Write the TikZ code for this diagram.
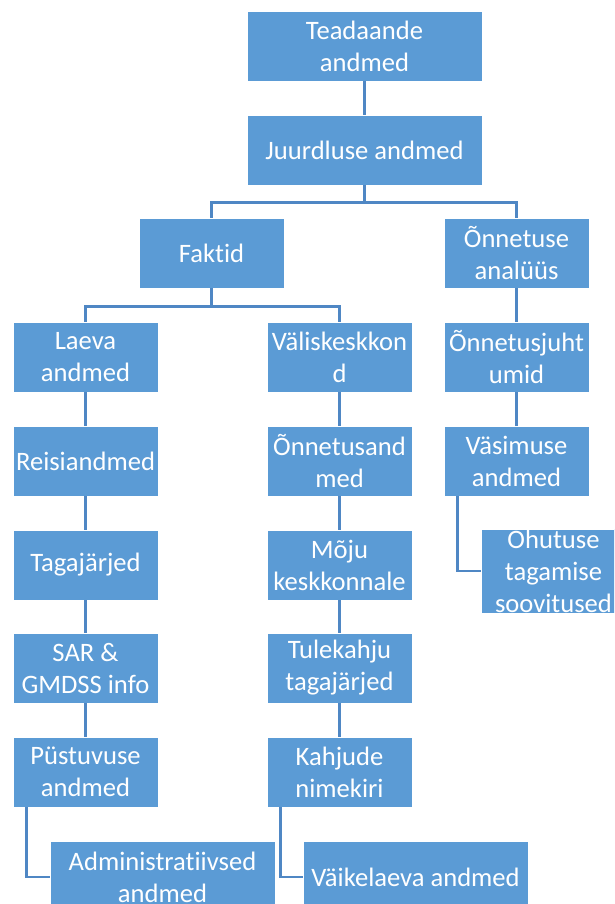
\documentclass[tikz,border=0pt]{standalone}
\usepackage{fontspec}
\setmainfont{Carlito}[Ligatures=NoCommon]
\definecolor{boxblue}{HTML}{5B9BD5}
\definecolor{lineblue}{HTML}{4F87C4}
\begin{document}
\begin{tikzpicture}[x=1pt,y=-1pt,
  box/.style={rectangle, fill=boxblue, draw=white, line width=0.8pt, text=white,
    align=center, inner sep=0pt, minimum width=145pt, minimum height=70pt,
    font=\fontsize{26.6}{32}\selectfont},
  wide/.style={minimum width=235pt},
  conn/.style={draw=lineblue, line width=2.6pt}]
\clip (0,0) rectangle (614,904);
\fill[white] (0,0) rectangle (614,904);
% nodes
\node[box,wide] (tea) at (364.5,46) {Teadaande\\andmed};
\node[box,wide] (juu) at (364.5,150) {Juurdluse andmed};
\node[box] (fak) at (211.5,253) {Faktid};
\node[box] (ana) at (516.5,253) {Õnnetuse\\analüüs};
\node[box] (lae) at (85.5,357) {Laeva\\andmed};
\node[box] (val) at (339.5,357) {Väliskeskkon\\d};
\node[box] (juh) at (516.5,357) {Õnnetusjuht\\umid};
\node[box] (rei) at (85.5,461) {Reisiandmed};
\node[box] (oan) at (339.5,461) {Õnnetusand\\med};
\node[box] (vas) at (516.5,461) {Väsimuse\\andmed};
\node[box] (tag) at (85.5,565) {Tagajärjed};
\node[box] (moj) at (339.5,565) {Mõju\\keskkonnale};
\node[box,minimum height=84pt] (ohu) at (553.5,571) {Ohutuse\\tagamise\\soovitused};
\node[box] (sar) at (85.5,668) {SAR \&\\GMDSS info};
\node[box] (tul) at (339.5,668) {Tulekahju\\tagajärjed};
\node[box] (pus) at (85.5,772) {Püstuvuse\\andmed};
\node[box] (kah) at (339.5,772) {Kahjude\\nimekiri};
\node[box,minimum width=225pt,minimum height=72pt] (adm) at (162.5,877) {Administratiivsed\\andmed};
\node[box,minimum width=225pt,minimum height=72pt] (vai) at (415.5,877) {Väikelaeva andmed};
% connectors
\draw[conn] (tea) -- (juu);
\draw[conn] (juu.south) -- ++(0,17) -| (fak.north);
\draw[conn] (juu.south) -- ++(0,17) -| (ana.north);
\draw[conn] (fak.south) -- ++(0,18) -| (lae.north);
\draw[conn] (fak.south) -- ++(0,18) -| (val.north);
\draw[conn] (ana) -- (juh);
\draw[conn] (juh) -- (vas);
\draw[conn] (lae) -- (rei);
\draw[conn] (rei) -- (tag);
\draw[conn] (tag) -- (sar);
\draw[conn] (sar) -- (pus);
\draw[conn] (val) -- (oan);
\draw[conn] (oan) -- (moj);
\draw[conn] (moj) -- (tul);
\draw[conn] (tul) -- (kah);
\draw[conn] ([xshift=14pt]pus.south west) |- (adm.west);
\draw[conn] ([xshift=14pt]kah.south west) |- (vai.west);
\draw[conn] ([xshift=14pt]vas.south west) |- (ohu.west);
\end{tikzpicture}
\end{document}
